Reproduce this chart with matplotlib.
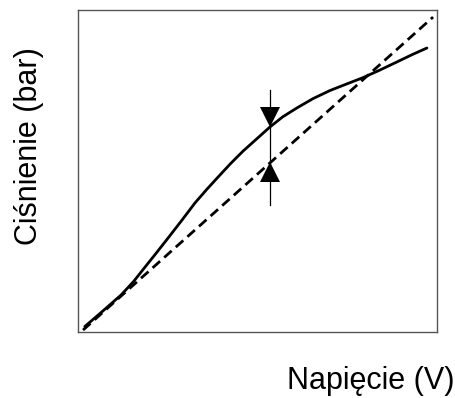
import matplotlib.pyplot as plt
import numpy as np

plt.rcParams['font.family'] = ['Liberation Sans', 'DejaVu Sans']

# measured pressure curve (normalised)
volt = [0.019, 0.070, 0.120, 0.155, 0.187, 0.220, 0.251, 0.290, 0.326, 0.358, 0.390,
        0.425, 0.460, 0.500, 0.535, 0.570, 0.610, 0.655, 0.702, 0.750, 0.794, 0.840,
        0.889, 0.930, 0.972]
press = [0.017, 0.066, 0.115, 0.157, 0.202, 0.248, 0.292, 0.348, 0.401, 0.442, 0.481,
         0.523, 0.562, 0.602, 0.637, 0.668, 0.696, 0.725, 0.750, 0.771, 0.790, 0.813,
         0.839, 0.861, 0.882]

# ideal linear characteristic
lin_volt = [0.014, 0.989]
lin_press = [0.006, 0.978]

# deviation marker
dev_x = 0.535
dev_range = [0.394, 0.752]

fig = plt.figure(figsize=(4.55, 3.98), dpi=100)
ax = fig.add_axes([78/455, 1 - 332/398, 359/455, 322/398])

ax.plot(volt, press, color='black', lw=2.0, solid_capstyle='round', solid_joinstyle='round')
ax.plot(lin_volt, lin_press, color='black', lw=2.0, dashes=(3.6, 2.0))
ax.plot([dev_x, dev_x], dev_range, color='black', lw=0.9)
ax.plot(dev_x, 0.668, marker='v', color='black', ms=14, mew=0)
ax.plot(dev_x, 0.497, marker='^', color='black', ms=14, mew=0)

ax.set_xlim(0, 1)
ax.set_ylim(0, 1)
ax.set_xticks([])
ax.set_yticks([])
for s in ax.spines.values():
    s.set_color('#555555')
    s.set_linewidth(1.0)

fig.text(29/455, 1 - 146/398, 'Ciśnienie (bar)', rotation=90, ha='center', va='center', fontsize=22)
fig.text(371/455, 1 - 381/398, 'Napięcie (V)', ha='center', va='center', fontsize=22)

fig.savefig('out.png', dpi=100)
